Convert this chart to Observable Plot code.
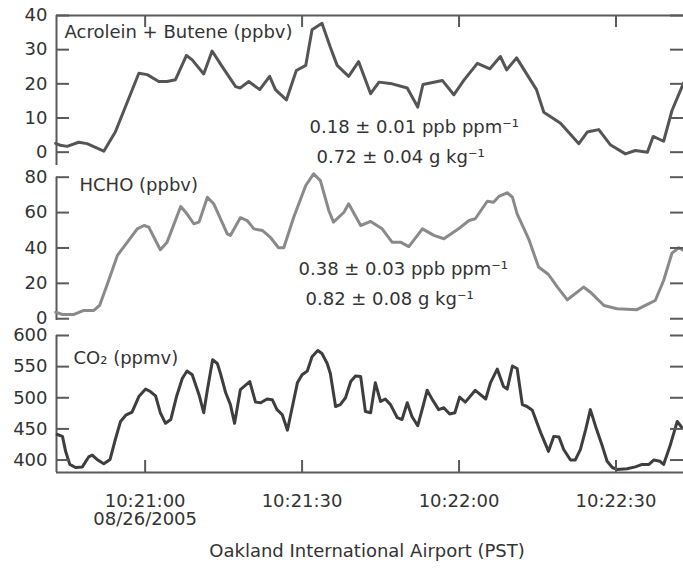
<!DOCTYPE html>
<html><head><meta charset="utf-8">
<script src="https://cdn.jsdelivr.net/npm/d3@7"></script>
<script src="https://cdn.jsdelivr.net/npm/@observablehq/plot@0.6"></script>
<style>
body{margin:0;background:#fff;}
#chart svg{display:block;}
.panel{position:relative;width:683px;}
.panel svg.overlay{position:absolute;left:0;top:0;}
</style></head><body><div id="chart"></div>
<script>
// time = seconds after 10:20:00 PST, 08/26/2005
const acrT = [42.9,43.8,45.1,47.3,48.9,52.1,54.3,58.8,60.4,62.6,64.2,65.8,67.9,69.0,71.2,72.8,74.7,77.3,78.2,79.8,81.9,83.8,84.9,87.0,88.9,90.7,91.9,93.8,95.4,96.7,98.9,100.8,103.1,104.7,107.2,110.1,112.1,113.1,116.8,119.0,120.9,123.5,125.9,127.9,129.1,131.0,134.8,136.2,139.4,142.9,144.5,146.7,148.9,151.8,153.7,156.0,157.1,159.1,160.7,162.9];
const acrV = [2.6,2.0,1.7,2.9,2.5,0.3,5.9,23.1,22.7,20.7,20.7,21.2,28.3,27.0,22.9,29.6,25.1,19.2,18.8,20.7,18.3,22.2,18.3,15.3,23.9,25.4,35.8,37.7,30.7,25.4,22.2,26.5,17.1,20.5,20.0,18.8,13.2,19.8,21.0,16.8,21.0,26.0,24.4,28.0,24.1,27.6,18.3,11.7,8.5,2.5,5.9,6.6,2.2,-0.5,0.5,0.0,4.6,3.2,12.2,20.2];

const hchoT = [42.9,44.2,46.4,48.3,50.2,51.3,52.8,54.7,56.6,58.5,59.8,60.7,62.9,64.2,66.8,68.0,69.3,70.3,71.9,73.1,75.7,76.3,78.2,79.5,80.8,82.4,84.0,85.5,86.5,88.4,90.7,92.2,93.5,95.1,96.0,98.0,98.9,101.2,103.1,105.3,107.2,108.8,110.4,113.0,115.2,117.1,119.9,121.9,123.1,125.4,126.6,127.6,129.2,130.2,131.1,133.3,135.2,137.1,138.8,140.7,143.8,145.1,147.7,150.2,154.0,156.0,157.5,159.1,160.7,162.0,162.9];
const hchoV = [3.7,2.4,2.4,4.7,4.7,7.5,19.8,35.8,43.3,50.8,52.7,51.8,39.0,43.3,63.4,59.3,53.7,54.6,68.7,65.0,48.0,47.1,57.1,55.5,50.8,49.9,45.8,40.1,40.1,57.4,75.3,81.9,78.1,61.2,54.6,60.2,65.0,52.7,55.0,50.8,43.3,43.3,40.8,50.8,47.1,45.2,50.8,55.5,56.5,66.4,65.9,69.1,71.2,68.7,59.3,45.2,29.2,25.0,17.9,10.7,17.9,15.0,7.5,5.6,5.1,8.1,10.3,21.6,37.1,40.1,38.6];

const co2T = [43.2,44.2,44.8,45.6,46.7,48.0,49.2,49.9,50.8,52.1,53.3,54.3,55.3,56.3,57.5,58.8,60.1,61.0,62.0,62.9,63.9,64.9,66.0,67.1,68.0,69.0,70.3,71.2,71.9,72.9,73.8,74.4,75.4,76.3,77.1,78.2,80.0,81.1,82.1,83.3,84.3,85.2,86.2,87.2,88.1,89.1,90.0,91.0,91.9,93.0,93.8,94.8,95.4,96.4,97.3,98.3,99.3,100.2,101.2,102.1,103.1,104.0,105.0,105.9,106.9,108.2,109.1,110.1,111.0,112.1,113.1,113.9,114.9,116.1,117.1,118.2,119.2,120.1,121.2,123.1,125.1,126.0,127.3,128.5,129.2,130.2,131.1,132.1,133.0,134.0,135.6,137.1,138.1,139.1,140.0,141.3,142.2,143.2,144.2,145.1,146.1,147.4,148.3,149.3,150.2,152.1,153.7,155.0,156.3,157.2,158.4,159.1,160.3,161.7,162.6];
const co2V = [441,438,414,393,388,389,405,408,401,394,401,433,462,472,477,502,514,510,503,476,459,465,502,531,543,537,505,476,513,561,555,539,508,489,459,513,526,493,492,498,497,481,473,448,484,524,537,543,566,576,571,555,539,486,489,500,526,535,534,478,476,524,494,498,489,468,465,492,470,455,486,512,497,481,484,474,476,501,493,512,498,524,546,518,514,551,547,489,486,480,444,414,438,437,417,400,400,417,449,481,454,422,398,388,385,386,389,393,393,400,398,393,422,462,452];

const xTickSec = [60, 90, 120, 150];
const xTickLabels = ["10:21:00\n08/26/2005", "10:21:30", "10:22:00", "10:22:30"];
const acrTicks = [0, 10, 20, 30, 40];
const hchoTicks = [0, 20, 40, 60, 80];
const co2Ticks = [400, 450, 500, 550, 600];
const panelLabels = ["Acrolein + Butene (ppbv)", "HCHO (ppbv)", "CO₂ (ppmv)"];
const acrNotes = ["0.18 ± 0.01 ppb ppm⁻¹", "0.72 ± 0.04 g kg⁻¹"];
const hchoNotes = ["0.38 ± 0.03 ppb ppm⁻¹", "0.82 ± 0.08 g kg⁻¹"];
const xTitle = "Oakland International Airport (PST)";

const base = Date.UTC(2005, 7, 26, 10, 20, 0);
const toDate = s => new Date(base + s * 1000);
const xDomain = [toDate(43.06), toDate(162.9)];
const xTicks = xTickSec.map(toDate);
const xLabelOf = new Map(xTicks.map((d, i) => [+d, xTickLabels[i]]));

const FONT = "DejaVu Sans";
const FS = 18;
const AXIS = "#5a5a5a";
const TEXT = "#333";
const W = 683, ML = 56, MR = 0;
const TICK = 13;

function rows(T, V) { return T.map((t, i) => ({t: toDate(t), v: V[i]})); }

function panel({height, marginTop, marginBottom, yDomain, yTicks, T, V, stroke, extra, hasTop, hasBottom}) {
  const fw = W - ML - MR;
  const fh = height - marginTop - marginBottom;
  const frame = {width: W, height, marginLeft: ML, marginRight: MR, marginTop, marginBottom,
    x: {type: "utc", domain: xDomain, axis: null}, y: {domain: yDomain, axis: null}};

  // main layer: axis lines, data line and texts
  const mainMarks = [
    Plot.ruleX([xDomain[0]], {stroke: AXIS, strokeWidth: 2}),
    Plot.line(rows(T, V), {x: "t", y: "v", stroke, strokeWidth: 3, strokeLinejoin: "round"}),
    Plot.text(yTicks, {y: d => d, text: d => String(d), frameAnchor: "left", textAnchor: "end", dx: -9, fill: TEXT, fontSize: FS}),
    ...extra
  ];
  if (hasTop) mainMarks.push(Plot.ruleY([yDomain[1]], {stroke: AXIS, strokeWidth: 2}));
  if (hasBottom) {
    mainMarks.push(Plot.ruleY([yDomain[0]], {stroke: AXIS, strokeWidth: 2}));
    mainMarks.push(Plot.text(xTicks, {x: d => d, text: d => xLabelOf.get(+d), frameAnchor: "bottom", lineAnchor: "top", lineHeight: 0.98, dy: 22, fill: TEXT, fontSize: FS}));
  }
  const main = Plot.plot({...frame,
    style: {fontFamily: FONT, fontSize: FS + "px", color: TEXT, background: "#fff", overflow: "visible"},
    marks: mainMarks});

  // overlay layer: inward tick marks only
  const tickMarks = [
    Plot.tickY(yTicks, {y: d => d, insetRight: fw - TICK, stroke: AXIS, strokeWidth: 2}),
    Plot.tickY(yTicks, {y: d => d, insetLeft: fw - TICK, stroke: AXIS, strokeWidth: 2})
  ];
  if (hasTop) tickMarks.push(Plot.tickX(xTicks, {x: d => d, insetBottom: fh - 12, stroke: AXIS, strokeWidth: 2}));
  if (hasBottom) tickMarks.push(Plot.tickX(xTicks, {x: d => d, insetTop: fh - 12, stroke: AXIS, strokeWidth: 2}));
  const overlay = Plot.plot({...frame,
    style: {background: "transparent", overflow: "visible"},
    marks: tickMarks});
  overlay.classList.add("overlay");
  overlay.style.background = "transparent";

  const div = document.createElement("div");
  div.className = "panel";
  div.append(main, overlay);
  return div;
}

const note = (txt, dx, dy) => Plot.text([txt], {frameAnchor: "top-left", textAnchor: "start", lineAnchor: "middle", dx, dy, fill: TEXT, fontSize: FS});

const p1 = panel({height: 170, marginTop: 15, marginBottom: 5, yDomain: [-3.9, 40], yTicks: acrTicks, T: acrT, V: acrV, stroke: "#555", hasTop: true,
  extra: [note(panelLabels[0], 8, 17), note(acrNotes[0], 253, 112), note(acrNotes[1], 260, 142)]});
const p2 = panel({height: 156, marginTop: 6.7, marginBottom: 6, yDomain: [-1, 80], yTicks: hchoTicks, T: hchoT, V: hchoV, stroke: "#8a8a8a",
  extra: [note(panelLabels[1], 23, 8), note(hchoNotes[0], 242, 92), note(hchoNotes[1], 249, 122)]});
const p3 = panel({height: 243, marginTop: 9, marginBottom: 97, yDomain: [380, 600], yTicks: co2Ticks, T: co2T, V: co2V, stroke: "#3e3e3e", hasBottom: true,
  extra: [note(panelLabels[2], 17, 23),
    Plot.text([xTitle], {frameAnchor: "bottom", lineAnchor: "middle", dx: -3, dy: 79, fill: TEXT, fontSize: FS})]});

document.getElementById("chart").append(p1, p2, p3);
</script>
</body></html>
